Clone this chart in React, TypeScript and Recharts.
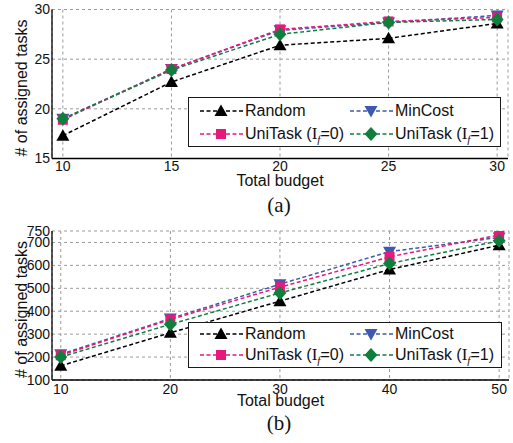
import React from 'react';
import { LineChart, Line, XAxis, YAxis, CartesianGrid, Legend, Label } from 'recharts';

// ---------- data ----------
const budgetsA = [10, 15, 20, 25, 30];
const randomA = [17.3, 22.7, 26.4, 27.1, 28.6];
const minCostA = [19.0, 24.0, 27.9, 28.7, 29.4];
const uniTask0A = [18.9, 24.0, 28.0, 28.8, 29.2];
const uniTask1A = [19.0, 23.9, 27.5, 28.7, 29.0];
const xTicksA = [10, 15, 20, 25, 30];
const xMinorA = [12.5, 17.5, 22.5, 27.5];
const yTicksA = [15, 20, 25, 30];
const yMinorA = [17.5, 22.5, 27.5];

const budgetsB = [10, 20, 30, 40, 50];
const randomB = [162, 306, 444, 582, 688];
const minCostB = [212, 368, 518, 660, 722];
const uniTask0B = [208, 364, 505, 637, 733];
const uniTask1B = [200, 343, 480, 608, 707];
const xTicksB = [10, 20, 30, 40, 50];
const xMinorB = [15, 25, 35, 45];
const yTicksB = [100, 200, 300, 400, 500, 600, 700, 750];
const yMinorB = [150, 250, 350, 450, 550, 650];

const FONT = '"Liberation Sans", Arial, Helvetica, sans-serif';
const SERIF = '"Liberation Serif", "Times New Roman", serif';

type Shape = 'triUp' | 'triDown' | 'square' | 'diamond';
const SERIES: { key: string; name: string; color: string; shape: Shape; sub?: string }[] = [
  { key: 'random', name: 'Random', color: '#000000', shape: 'triUp' },
  { key: 'minCost', name: 'MinCost', color: '#3c5bb0', shape: 'triDown' },
  { key: 'uni0', name: 'UniTask', sub: '0', color: '#e8197c', shape: 'square' },
  { key: 'uni1', name: 'UniTask', sub: '1', color: '#0f7f3e', shape: 'diamond' },
];

function buildRows(xs: number[], r: number[], m: number[], u0: number[], u1: number[]) {
  return xs.map((x, i) => ({ budget: x, random: r[i], minCost: m[i], uni0: u0[i], uni1: u1[i] }));
}
const dataA = buildRows(budgetsA, randomA, minCostA, uniTask0A, uniTask1A);
const dataB = buildRows(budgetsB, randomB, minCostB, uniTask0B, uniTask1B);

function Marker({ shape, cx, cy, color }: { shape: Shape; cx: number; cy: number; color: string }) {
  if (cx == null || cy == null) return <g />;
  switch (shape) {
    case 'triUp':
      return <polygon points={`${cx},${cy - 6.5} ${cx + 6.5},${cy + 5} ${cx - 6.5},${cy + 5}`} fill={color} />;
    case 'triDown':
      return <polygon points={`${cx},${cy + 6.5} ${cx + 6.5},${cy - 5} ${cx - 6.5},${cy - 5}`} fill={color} />;
    case 'square':
      return <rect x={cx - 5} y={cy - 5} width={10} height={10} fill={color} />;
    default:
      return <polygon points={`${cx},${cy - 7} ${cx + 6.5},${cy} ${cx},${cy + 7} ${cx - 6.5},${cy}`} fill={color} />;
  }
}

function SeriesLabel({ s }: { s: (typeof SERIES)[number] }) {
  if (!s.sub) return <span>{s.name}</span>;
  return (
    <span>
      {s.name} (<span style={{ fontFamily: SERIF, fontSize: 17 }}>I</span>
      <span style={{ fontFamily: SERIF, fontStyle: 'italic', fontSize: 11, position: 'relative', top: 4 }}>f</span>
      ={s.sub})
    </span>
  );
}

function LegendBox() {
  return (
    <div
      style={{
        boxSizing: 'border-box',
        width: '100%',
        height: '100%',
        border: '1.3px solid #1a1a1a',
        background: '#fff',
        display: 'grid',
        gridTemplateColumns: '150px 1fr',
        gridAutoRows: '1fr',
        paddingLeft: 11,
        paddingTop: 1,
        paddingBottom: 1,
        fontFamily: FONT,
        fontSize: 16,
        color: '#111',
      }}
    >
      {SERIES.map((s) => (
        <div key={s.key} style={{ display: 'flex', alignItems: 'center', whiteSpace: 'nowrap' }}>
          <svg width={44} height={18} style={{ display: 'block', marginRight: 1 }}>
            <line x1={0} y1={9} x2={44} y2={9} stroke={s.color} strokeWidth={1.5} strokeDasharray="4 2.5" />
            <Marker shape={s.shape} cx={21} cy={9} color={s.color} />
          </svg>
          <SeriesLabel s={s} />
        </div>
      ))}
    </div>
  );
}

function frameAxes(xDomain: number[], yDomain: number[], xMajor: number[], xMinor: number[], yMajor: number[], yMinor: number[]) {
  const line = { stroke: '#000', strokeWidth: 1 };
  const axisL = { stroke: '#000', strokeWidth: 1.3 };
  const xs = [
    { id: 'xb1', o: 'bottom', t: xMajor, s: 5, a: false },
    { id: 'xb2', o: 'bottom', t: xMinor, s: 3, a: false },
    { id: 'xt1', o: 'top', t: xMajor, s: 5, a: true },
    { id: 'xt2', o: 'top', t: xMinor, s: 3, a: false },
  ];
  const ys = [
    { id: 'yl1', o: 'left', t: yMajor, s: 5, a: false },
    { id: 'yl2', o: 'left', t: yMinor, s: 3, a: false },
    { id: 'yr1', o: 'right', t: yMajor, s: 5, a: true },
    { id: 'yr2', o: 'right', t: yMinor, s: 3, a: false },
  ];
  return [
    ...xs.map((a) => (
      <XAxis
        key={a.id}
        xAxisId={a.id}
        orientation={a.o as any}
        type="number"
        dataKey="budget"
        domain={xDomain}
        allowDataOverflow
        ticks={a.t}
        interval={0}
        mirror
        height={0}
        tick={false}
        tickSize={a.s}
        tickLine={line}
        axisLine={a.a ? axisL : false}
      />
    )),
    ...ys.map((a) => (
      <YAxis
        key={a.id}
        yAxisId={a.id}
        orientation={a.o as any}
        type="number"
        domain={yDomain}
        allowDataOverflow
        ticks={a.t}
        interval={0}
        mirror
        width={0}
        tick={false}
        tickSize={a.s}
        tickLine={line}
        axisLine={a.a ? axisL : false}
      />
    )),
  ];
}

function Panel(props: {
  data: any[];
  width: number;
  height: number;
  margin: any;
  xDomain: number[];
  yDomain: number[];
  xTicks: number[];
  xMinor: number[];
  yTicks: number[];
  yMinor: number[];
  tickGap: number;
  xLabelGap: number;
  legendStyle: any;
}) {
  const tickStyle = { fontSize: 14, fill: '#111', fontFamily: FONT };
  return (
    <LineChart width={props.width} height={props.height} data={props.data} margin={props.margin}>
      <CartesianGrid xAxisId="x" yAxisId="y" stroke="#9a9a9a" strokeDasharray="3 3" strokeWidth={1} />
      <XAxis
        xAxisId="x"
        type="number"
        dataKey="budget"
        domain={props.xDomain}
        allowDataOverflow
        ticks={props.xTicks}
        interval={0}
        height={30}
        tickLine={false}
        tickSize={0}
        tickMargin={props.tickGap}
        tick={tickStyle}
        axisLine={{ stroke: '#000', strokeWidth: 1.3 }}
      >
        <Label
          content={(p: any) => {
            const vb = p.viewBox || {};
            return (
              <text
                x={vb.x + vb.width / 2}
                y={vb.y + props.xLabelGap}
                textAnchor="middle"
                dominantBaseline="central"
                fontSize={16}
                fontFamily={FONT}
                fill="#111"
              >
                Total budget
              </text>
            );
          }}
        />
      </XAxis>
      <YAxis
        yAxisId="y"
        type="number"
        domain={props.yDomain}
        allowDataOverflow
        ticks={props.yTicks}
        interval={0}
        width={40}
        tickLine={false}
        tickSize={0}
        tickMargin={2}
        tick={tickStyle}
        axisLine={{ stroke: '#000', strokeWidth: 1.3 }}
      >
        <Label
          content={(p: any) => {
            const vb = p.viewBox || {};
            const cx = vb.x + 9;
            const cy = vb.y + vb.height / 2 + 4;
            return (
              <text
                x={cx}
                y={cy}
                transform={`rotate(-90, ${cx}, ${cy})`}
                textAnchor="middle"
                dominantBaseline="central"
                fontSize={16}
                fontFamily={FONT}
                fill="#111"
              >
                # of assigned tasks
              </text>
            );
          }}
        />
      </YAxis>
      {frameAxes(props.xDomain, props.yDomain, props.xTicks, props.xMinor, props.yTicks, props.yMinor)}
      {SERIES.map((s) => (
        <Line
          key={s.key}
          xAxisId="x"
          yAxisId="y"
          type="linear"
          dataKey={s.key}
          name={s.name}
          stroke={s.color}
          strokeWidth={1.5}
          strokeDasharray="4 2.5"
          isAnimationActive={false}
          activeDot={false}
          dot={(d: any) => <Marker key={`${s.key}-${d.index}`} shape={s.shape} cx={d.cx} cy={d.cy} color={s.color} />}
        />
      ))}
      <Legend
        layout="horizontal"
        verticalAlign="middle"
        wrapperStyle={props.legendStyle}
        content={() => <LegendBox />}
      />
    </LineChart>
  );
}

export default function App() {
  return (
    <div style={{ position: 'absolute', left: 0, top: 0, width: 513, height: 443, background: '#fff', overflow: 'hidden' }}>
      <div style={{ position: 'absolute', left: 0, top: 0 }}>
        <Panel
          data={dataA}
          width={513}
          height={200}
          margin={{ top: 9.5, right: 5, bottom: 11.5, left: 12 }}
          xDomain={[9.5, 30.5]}
          yDomain={[15, 30]}
          xTicks={xTicksA}
          xMinor={xMinorA}
          yTicks={yTicksA}
          yMinor={yMinorA}
          tickGap={2.5}
          xLabelGap={21.5}
          legendStyle={{ left: 188, top: 97, width: 313, height: 50 }}
        />
      </div>
      <div style={{ position: 'absolute', left: 0, top: 220 }}>
        <Panel
          data={dataB}
          width={513}
          height={223}
          margin={{ top: 11, right: 4, bottom: 33, left: 12 }}
          xDomain={[9.2, 50.9]}
          yDomain={[100, 750]}
          xTicks={xTicksB}
          xMinor={xMinorB}
          yTicks={yTicksB}
          yMinor={yMinorB}
          tickGap={4}
          xLabelGap={20}
          legendStyle={{ left: 188, top: 101.5, width: 314, height: 46.5 }}
        />
      </div>
      <div style={{ position: 'absolute', left: 229, width: 100, top: 193, textAlign: 'center', fontFamily: SERIF, fontSize: 21, lineHeight: '24px', color: '#111' }}>
        (a)
      </div>
      <div style={{ position: 'absolute', left: 229, width: 100, top: 410.5, textAlign: 'center', fontFamily: SERIF, fontSize: 21, lineHeight: '24px', color: '#111' }}>
        (b)
      </div>
    </div>
  );
}
